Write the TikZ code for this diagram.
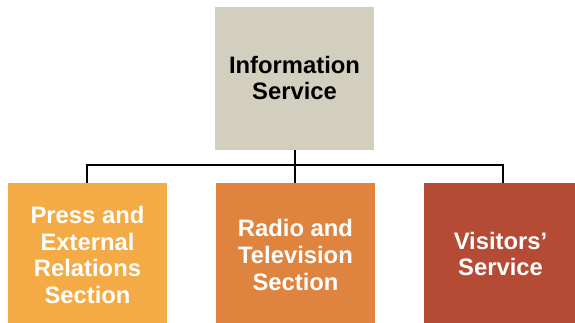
\documentclass[tikz,border=0pt]{standalone}
\usepackage{fontspec}
\setmainfont{Liberation Sans}
\definecolor{topc}{HTML}{D3CFBE}
\definecolor{leftc}{HTML}{F4AA45}
\definecolor{midc}{HTML}{DF843F}
\definecolor{rightc}{HTML}{B54A35}
\begin{document}
\begin{tikzpicture}[x=1pt,y=-1pt,
  box/.style={draw=none,inner sep=0pt,align=center,font=\fontsize{23.8}{26.8}\selectfont\bfseries},
  link/.style={draw=black,line width=2pt}]
\useasboundingbox (0,0) rectangle (575,323);
\fill[topc] (215,7) rectangle (374,150);
\fill[leftc] (8,183) rectangle (167,323);
\fill[midc] (216,183) rectangle (375,323);
\fill[rightc] (424,183) rectangle (575,323);
\node[box,text=black] (top) at (294.5,78) {Information\\Service};
\node[box,text=white] (left) at (87.5,255) {Press and\\External\\Relations\\Section};
\node[box,text=white] (mid) at (295.5,255) {Radio and\\Television\\Section};
\node[box,text=white] (right) at (500.5,254) {Visitors’\\Service};
\coordinate (ta) at (295,150);
\coordinate (bus) at (295,165.5);
\coordinate (la) at (87,183);
\coordinate (ma) at (295,183);
\coordinate (ra) at (503,183);
\draw[link] (ta) -- (ma);
\draw[link] (la) |- (bus) -| (ra);
\end{tikzpicture}
\end{document}
